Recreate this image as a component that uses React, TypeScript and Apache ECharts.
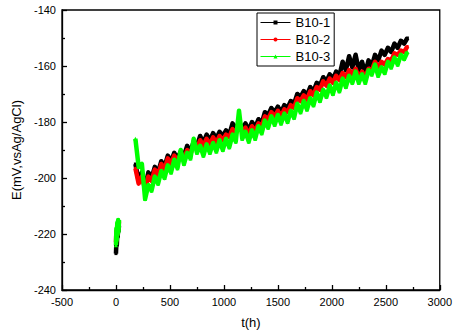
import React, { useEffect, useRef } from "react";
import * as echarts from "echarts";

const times: number[] = [
  0, 4, 8, 12, 16, 20, 24, 28, 100,
  180, 210, 240, 270, 300, 330, 360, 390, 420, 450,
  480, 510, 540, 570, 600, 630, 660, 690, 720, 750,
  780, 810, 840, 870, 900, 930, 960, 990, 1020, 1050,
  1080, 1110, 1140, 1170, 1200, 1230, 1260, 1290, 1320, 1350,
  1380, 1410, 1440, 1470, 1500, 1530, 1560, 1590, 1620, 1650,
  1680, 1710, 1740, 1770, 1800, 1830, 1860, 1890, 1920, 1950,
  1980, 2010, 2040, 2070, 2100, 2130, 2160, 2190, 2220, 2250,
  2280, 2310, 2340, 2370, 2400, 2430, 2460, 2490, 2520, 2550,
  2580, 2610, 2640, 2670, 2700,
];

const b101: (number | null)[] = [
  -227, -223, -224, -220, -221, -218, -219, -217, null,
  -195, -201, -198, -203, -198, -200, -196, -198, -194, -196,
  -192, -194, -191, -193, -190.5, -192, -188.5, -190.5, -187, -188.5,
  -185, -187.5, -184.5, -186.5, -184, -186, -183.5, -185, -183, -184.5,
  -180.5, -182.5, -180, -182.5, -180.5, -183, -180, -182, -179, -180.5,
  -176.5, -177.5, -175, -176.5, -174.5, -176.5, -174, -175, -172.5, -173.5,
  -170, -171, -169, -170.5, -167.5, -169, -166, -167, -164, -165.5,
  -163, -164.5, -162, -163.5, -158.5, -161.5, -156.5, -160.5, -156, -161.5,
  -158.5, -162.5, -158, -160, -156, -158, -154.5, -156, -153.5, -155,
  -152, -153.5, -151, -152, -150,
];

const b102: (number | null)[] = [
  -223, -219, -221, -217, -220, -216, -218, -215.5, null,
  -196.5, -202, -199.5, -204, -199.5, -201, -197, -199, -195, -197,
  -193, -195, -192, -194, -191.5, -193, -190, -191.5, -188, -189.5,
  -186.5, -188.5, -186, -188, -185.5, -187.5, -185, -186.5, -184.5, -185.5,
  -182.5, -184, -181.5, -183.5, -182, -184.5, -181.5, -183.5, -180.5, -181.5,
  -178, -179, -176.5, -178, -176, -178, -175.5, -176.5, -174, -175,
  -171.5, -172.5, -170.5, -172, -169, -170.5, -167.5, -168.5, -165.5, -167,
  -164.5, -166, -163.5, -165, -162.5, -164, -161.5, -163, -161, -164,
  -162, -164, -161, -161.5, -158.5, -161, -158.5, -159.5, -157.5, -158,
  -155.5, -156, -154.5, -155, -153,
];

const b103: (number | null)[] = [
  -224, -218, -222, -216, -220, -215, -219, -215, null,
  -186, -196, -195, -207.5, -202.5, -204.5, -199.5, -202, -197.5, -200,
  -195.5, -198, -193.5, -196.5, -190, -195, -191, -193, -186, -191,
  -188.5, -192, -188, -191, -187.5, -190.5, -186.5, -190, -186, -189,
  -184.5, -187, -176, -186, -183.5, -187, -183, -186, -181.5, -184,
  -179.5, -182, -178, -181, -177.5, -180.5, -177, -180, -176, -178.5,
  -173.5, -176.5, -172.5, -175.5, -171.5, -174, -169.5, -172.5, -168.5, -171,
  -167, -170, -166, -169, -164.5, -167.5, -163.5, -166, -162, -166,
  -163, -166, -161.5, -163, -159.5, -163.5, -160.5, -162.5, -158.5, -160.5,
  -157, -159.5, -156, -157.5, -155,
];

const seriesNames = ["B10-1", "B10-2", "B10-3"];
const seriesColors = ["#000000", "#ff0000", "#00ff00"];
const seriesSymbols = ["rect", "circle", "triangle"];
const seriesValues = [b101, b102, b103];

const xTicks = { min: -500, max: 3000, interval: 500 };
const yTicks = { min: -240, max: -140, interval: 20 };

const FONT = "'Liberation Sans', Arial, sans-serif";

export default function App() {
  const ref = useRef<HTMLDivElement>(null);
  useEffect(() => {
    if (!ref.current) return;
    const chart = echarts.init(ref.current, undefined, { renderer: "svg" });
    const axisCommon = {
      axisLine: { show: true, onZero: false, lineStyle: { color: "#000", width: 1.3 } },
      axisTick: { show: true, inside: true, length: 5, lineStyle: { color: "#000", width: 1.3 } },
      minorTick: { show: true, splitNumber: 2, length: 3, lineStyle: { color: "#000", width: 1.3 } },
      splitLine: { show: false },
      axisLabel: {
        color: "#000", fontSize: 11, fontFamily: FONT, margin: 6,
        formatter: (v: number) => String(v),
      },
    };
    chart.setOption({
      animation: false,
      backgroundColor: "#fff",
      grid: {
        left: 62, right: 15, top: 10, bottom: 44,
        show: true, borderColor: "#000", borderWidth: 1.3, backgroundColor: "transparent",
      },
      legend: {
        orient: "vertical",
        left: 257,
        top: 13,
        padding: [2, 4, 2, 3],
        borderColor: "#000",
        borderWidth: 1,
        backgroundColor: "#fff",
        itemWidth: 30,
        itemHeight: 5,
        itemGap: 2,
        lineStyle: { width: 1 },
        textStyle: { fontSize: 13, fontFamily: FONT, color: "#000", lineHeight: 15 },
        data: seriesNames,
      },
      xAxis: {
        type: "value",
        ...xTicks,
        name: "t(h)",
        nameLocation: "middle",
        nameGap: 26,
        nameTextStyle: { fontSize: 13, fontFamily: FONT, color: "#000" },
        ...axisCommon,
      },
      yAxis: {
        type: "value",
        ...yTicks,
        name: "E(mV,vsAg/AgCl)",
        nameLocation: "middle",
        nameGap: 37,
        nameTextStyle: { fontSize: 13, fontFamily: FONT, color: "#000" },
        ...axisCommon,
      },
      series: seriesNames.map((name, si) => ({
        name,
        type: "line",
        data: times.map((t, i) => [t, seriesValues[si][i]]),
        connectNulls: false,
        symbol: seriesSymbols[si],
        symbolSize: si === 2 ? 4 : 3,
        showAllSymbol: true,
        color: seriesColors[si],
        lineStyle: { color: seriesColors[si], width: 4.5, join: "round" },
        itemStyle: { color: seriesColors[si] },
        z: 2 + si,
      })),
    });
    return () => chart.dispose();
  }, []);
  return (
    <div
      ref={ref}
      style={{ position: "fixed", left: 0, top: 0, width: 455, height: 334, background: "#fff" }}
    />
  );
}
